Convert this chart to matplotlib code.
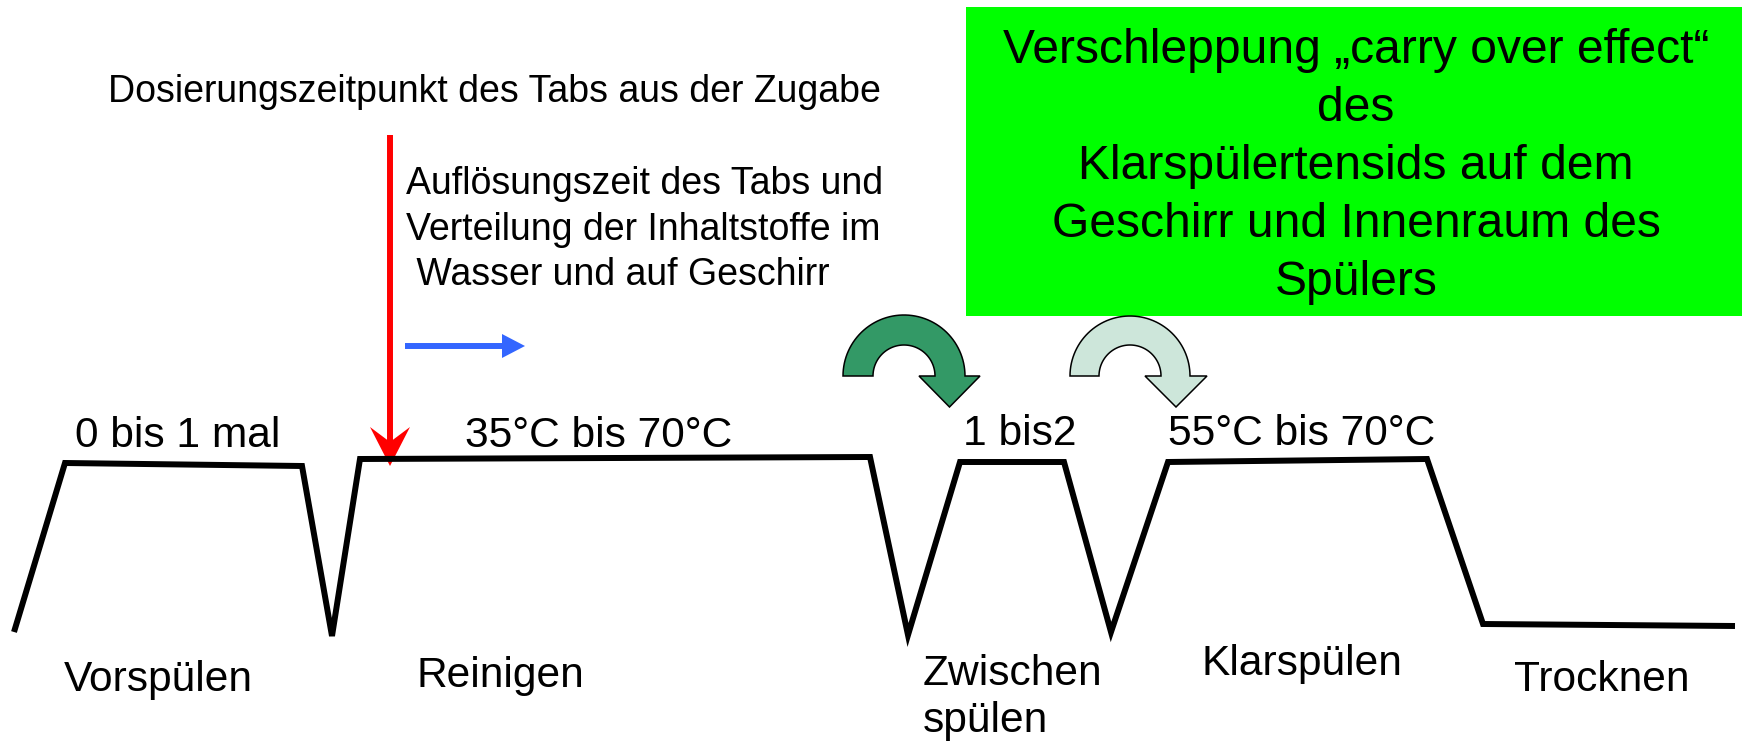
import numpy as np
import matplotlib.pyplot as plt
from matplotlib.patches import Polygon, Rectangle

plt.rcParams['font.family'] = ['Liberation Sans', 'DejaVu Sans']

# temperature profile of the wash programme (pixel coords, y down)
profile_x = [14, 65, 302, 332, 360, 870, 908, 960, 1064, 1111, 1168, 1427, 1483, 1735]
profile_y = [632, 463, 466, 636, 459, 457, 635, 462, 462, 632, 462, 459, 624, 626]

# labels above the profile: (text, left x, baseline y)
top_labels = ["0 bis 1 mal", "35°C bis 70°C", "1 bis2", "55°C bis 70°C"]
top_label_x = [75, 465, 963, 1168]
top_label_y = [447, 447, 445, 445]

# phase names below the profile
phase_labels = ["Vorspülen", "Reinigen", "Zwischen", "spülen", "Klarspülen", "Trocknen"]
phase_x = [64, 417, 923, 923, 1202, 1514]
phase_y = [691, 687, 685, 732, 675, 691]

dose_text = "Dosierungszeitpunkt des Tabs aus der Zugabe"
dissolve_lines = ["Auflösungszeit des Tabs und", "Verteilung der Inhaltstoffe im", " Wasser und auf Geschirr"]
box_lines = ["Verschleppung „carry over effect“", "des", "Klarspülertensids auf dem",
             "Geschirr und Innenraum des", "Spülers"]


def curved_arrow(ax, cx, cy, r_out, r_in, head_l, head_r, tip_y, color):
    t = np.linspace(np.pi, 0, 60)
    outer = np.column_stack([cx + r_out * np.cos(t), cy - r_out * np.sin(t)])
    inner = np.column_stack([cx + r_in * np.cos(t[::-1]), cy - r_in * np.sin(t[::-1])])
    tip_x = (head_l + head_r) / 2
    head = np.array([[head_r, cy], [tip_x, tip_y], [head_l, cy]])
    pts = np.vstack([outer, head, inner])
    ax.add_patch(Polygon(pts, closed=True, facecolor=color, edgecolor='black', lw=1.1, zorder=3))


fig = plt.figure(figsize=(17.43, 7.43), dpi=100)
ax = fig.add_axes([0, 0, 1, 1])
ax.set_xlim(0, 1743)
ax.set_ylim(743, 0)
ax.axis('off')

ax.plot(profile_x, profile_y, color='black', lw=4.3, solid_joinstyle='miter', solid_capstyle='butt')

for txt, x, y in zip(top_labels, top_label_x, top_label_y):
    ax.text(x, y, txt, fontsize=30.6, ha='left', va='baseline')
for txt, x, y in zip(phase_labels, phase_x, phase_y):
    ax.text(x, y, txt, fontsize=30.6, ha='left', va='baseline')

ax.text(108, 102, dose_text, fontsize=27, ha='left', va='baseline')
for i, line in enumerate(dissolve_lines):
    ax.text(406, 194 + i * 45.5, line, fontsize=27, ha='left', va='baseline')

# green box
ax.add_patch(Rectangle((966, 7), 776, 309, facecolor='#00FF00', edgecolor='none', zorder=1))
for i, line in enumerate(box_lines):
    ax.text(1356, 63 + i * 58, line, fontsize=34.6, ha='center', va='baseline', zorder=2)

# red dosing arrow
ax.plot([390, 390], [135, 445], color='#FF0000', lw=4.3, solid_capstyle='butt')
ax.add_patch(Polygon([[370, 427], [390, 466], [410, 427], [390, 442]], closed=True,
                     facecolor='#FF0000', edgecolor='none'))

# blue arrow
ax.plot([405, 504], [346, 346], color='#3366FF', lw=4.3, solid_capstyle='butt')
ax.add_patch(Polygon([[502, 334], [525, 346], [502, 358]], closed=True,
                     facecolor='#3366FF', edgecolor='none'))

# carry-over arrows
curved_arrow(ax, 904, 376, 61, 31, 919, 980, 407, '#339966')
curved_arrow(ax, 1130, 376, 60, 31, 1145, 1207, 407, '#CDE6DA')

fig.savefig("out.png", dpi=100)
